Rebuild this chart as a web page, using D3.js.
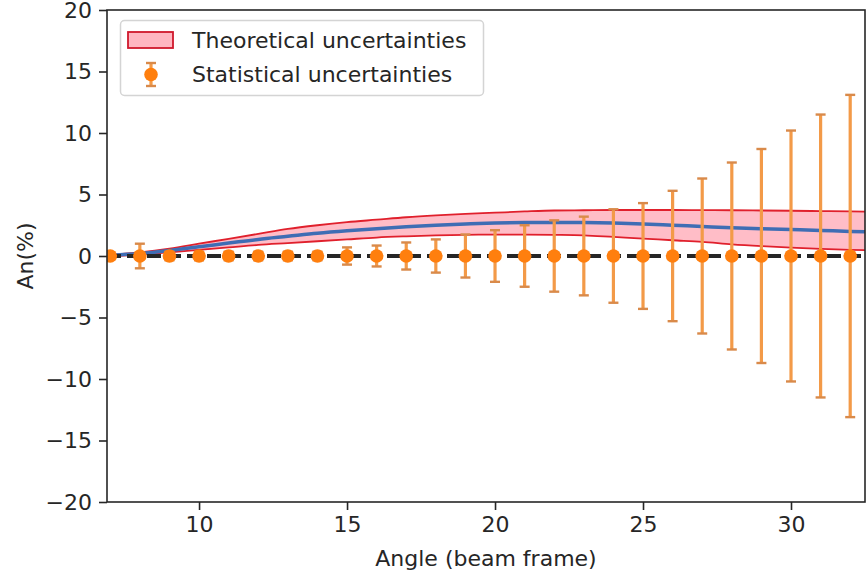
<!DOCTYPE html>
<html>
<head>
<meta charset="utf-8">
<script src="https://cdn.jsdelivr.net/npm/d3@7"></script>
<style>
  body { margin: 0; background: #fff; }
  svg { display: block; }
  text { font-family: "DejaVu Sans", sans-serif; fill: #262626; }
</style>
</head>
<body>
<svg id="chart" width="866" height="573"></svg>
<script>
// Theoretical prediction: central value and uncertainty band, An (%) vs angle
const bandAngles  = [7, 8, 9, 10, 11, 12, 13, 14, 15, 16, 17, 18, 19, 20, 21, 22, 23, 24, 25, 26, 27, 28, 29, 30, 31, 32, 33];
const bandUpper   = [0.1, 0.3, 0.6, 1.0, 1.4, 1.8, 2.2, 2.5, 2.75, 2.95, 3.15, 3.3, 3.42, 3.52, 3.62, 3.7, 3.72, 3.74, 3.74, 3.74, 3.73, 3.72, 3.7, 3.68, 3.65, 3.62, 3.58];
const bandCentral = [0.05, 0.2, 0.45, 0.75, 1.05, 1.35, 1.6, 1.85, 2.05, 2.22, 2.37, 2.5, 2.6, 2.68, 2.72, 2.73, 2.72, 2.68, 2.6, 2.5, 2.4, 2.3, 2.22, 2.15, 2.08, 2.0, 1.95];
const bandLower   = [0.0, 0.1, 0.3, 0.5, 0.7, 0.9, 1.05, 1.2, 1.35, 1.5, 1.6, 1.68, 1.72, 1.74, 1.74, 1.72, 1.68, 1.55, 1.42, 1.28, 1.15, 0.95, 0.8, 0.68, 0.58, 0.5, 0.46];

// Projected measurement: points at zero with statistical error bars
const pointAngles = [7, 8, 9, 10, 11, 12, 13, 14, 15, 16, 17, 18, 19, 20, 21, 22, 23, 24, 25, 26, 27, 28, 29, 30, 31, 32];
const pointValues = [0, 0, 0, 0, 0, 0, 0, 0, 0, 0, 0, 0, 0, 0, 0, 0, 0, 0, 0, 0, 0, 0, 0, 0, 0, 0];
const pointErrors = [0.3, 1.0, 0.35, 0.35, 0.35, 0.35, 0.35, 0.35, 0.7, 0.85, 1.1, 1.35, 1.75, 2.1, 2.5, 2.9, 3.2, 3.8, 4.3, 5.3, 6.3, 7.6, 8.7, 10.2, 11.5, 13.1];

const xTicks = [10, 15, 20, 25, 30];
const yTicks = [-20, -15, -10, -5, 0, 5, 10, 15, 20];
const xDomain = [6.89, 32.5];
const yDomain = [-20, 20];

const legendLabels = ["Theoretical uncertainties", "Statistical uncertainties"];
const xLabel = "Angle (beam frame)";
const yLabel = "An(%)";

const svg = d3.select("#chart");
const plot = { left: 107, right: 865, top: 10, bottom: 502 };
const fontSize = 22;

const x = d3.scaleLinear().domain(xDomain).range([plot.left, plot.right]);
const y = d3.scaleLinear().domain(yDomain).range([plot.bottom, plot.top]);

svg.append("defs").append("clipPath").attr("id", "plot-clip")
  .append("rect")
  .attr("x", plot.left).attr("y", plot.top)
  .attr("width", plot.right - plot.left).attr("height", plot.bottom - plot.top);

const g = svg.append("g").attr("clip-path", "url(#plot-clip)");

const band = bandAngles.map((a, i) => ({ a, lo: bandLower[i], c: bandCentral[i], hi: bandUpper[i] }));
const curve = d3.curveMonotoneX;

// uncertainty band
g.append("path")
  .datum(band)
  .attr("d", d3.area().x(d => x(d.a)).y0(d => y(d.lo)).y1(d => y(d.hi)).curve(curve))
  .attr("fill", "#ffb6c1")
  .attr("fill-opacity", 0.9);

// band edges
[d => d.hi, d => d.lo].forEach(acc => {
  g.append("path")
    .datum(band)
    .attr("d", d3.line().x(d => x(d.a)).y(d => y(acc(d))).curve(curve))
    .attr("fill", "none")
    .attr("stroke", "#e0202c")
    .attr("stroke-width", 1.8);
});

// central prediction
g.append("path")
  .datum(band)
  .attr("d", d3.line().x(d => x(d.a)).y(d => y(d.c)).curve(curve))
  .attr("fill", "none")
  .attr("stroke", "#3f6db4")
  .attr("stroke-width", 3.5);

// zero reference line
g.append("line")
  .attr("x1", plot.left).attr("x2", plot.right)
  .attr("y1", y(0)).attr("y2", y(0))
  .attr("stroke", "#262626")
  .attr("stroke-width", 4)
  .attr("stroke-dasharray", "14,6");

// error bars
const pts = pointAngles.map((a, i) => ({ a, v: pointValues[i], e: pointErrors[i] }));
const barColor = "#f39a48";
const capHalf = 5;
const eb = g.append("g");
eb.selectAll("line.bar").data(pts).join("line")
  .attr("class", "bar")
  .attr("x1", d => x(d.a)).attr("x2", d => x(d.a))
  .attr("y1", d => y(d.v - d.e)).attr("y2", d => y(d.v + d.e))
  .attr("stroke", barColor).attr("stroke-width", 3.2);
["top", "bot"].forEach(side => {
  eb.selectAll("line.cap-" + side).data(pts).join("line")
    .attr("class", "cap-" + side)
    .attr("x1", d => x(d.a) - capHalf).attr("x2", d => x(d.a) + capHalf)
    .attr("y1", d => y(side === "top" ? d.v + d.e : d.v - d.e))
    .attr("y2", d => y(side === "top" ? d.v + d.e : d.v - d.e))
    .attr("stroke", "#d98a4a").attr("stroke-width", 2.4);
});
eb.selectAll("circle").data(pts).join("circle")
  .attr("cx", d => x(d.a)).attr("cy", d => y(d.v))
  .attr("r", 6.8)
  .attr("fill", "#ff7f0e");

// axes
const xAxis = d3.axisBottom(x).tickValues(xTicks).tickSize(8).tickPadding(6).tickFormat(d3.format("d"));
const yAxis = d3.axisLeft(y).tickValues(yTicks).tickSize(8).tickPadding(7)
  .tickFormat(d => (d < 0 ? "\u2212" + Math.abs(d) : String(d)));

const gx = svg.append("g").attr("transform", `translate(0,${plot.bottom})`).call(xAxis);
const gy = svg.append("g").attr("transform", `translate(${plot.left},0)`).call(yAxis);
[gx, gy].forEach(ax => {
  ax.select(".domain").remove();
  ax.selectAll(".tick line").attr("stroke", "#262626").attr("stroke-width", 1.6);
  ax.selectAll(".tick text").attr("font-size", fontSize).attr("fill", "#262626")
    .style("font-family", "'DejaVu Sans', sans-serif");
});

// frame
svg.append("rect")
  .attr("x", plot.left).attr("y", plot.top)
  .attr("width", plot.right - plot.left).attr("height", plot.bottom - plot.top)
  .attr("fill", "none").attr("stroke", "#262626").attr("stroke-width", 1.6);

// axis labels
svg.append("text")
  .attr("x", (plot.left + plot.right) / 2).attr("y", 566)
  .attr("text-anchor", "middle").attr("font-size", fontSize)
  .text(xLabel);
svg.append("text")
  .attr("transform", `translate(33,${(plot.top + plot.bottom) / 2}) rotate(-90)`)
  .attr("text-anchor", "middle").attr("font-size", fontSize)
  .text(yLabel);

// legend
const lg = svg.append("g");
lg.append("rect")
  .attr("x", 120.5).attr("y", 20.5).attr("width", 363).attr("height", 75)
  .attr("rx", 4).attr("fill", "#fff").attr("fill-opacity", 0.85)
  .attr("stroke", "#d4d4d4").attr("stroke-width", 1.5);
lg.append("rect")
  .attr("x", 128).attr("y", 32).attr("width", 45).attr("height", 16)
  .attr("fill", "#ffb6c1").attr("stroke", "#d0182c").attr("stroke-width", 1.8);
lg.append("line")
  .attr("x1", 151).attr("x2", 151).attr("y1", 63).attr("y2", 86)
  .attr("stroke", barColor).attr("stroke-width", 3.2);
[63, 86].forEach(yy => lg.append("line")
  .attr("x1", 151 - capHalf).attr("x2", 151 + capHalf).attr("y1", yy).attr("y2", yy)
  .attr("stroke", "#d98a4a").attr("stroke-width", 2.4));
lg.append("circle").attr("cx", 151).attr("cy", 74.5).attr("r", 6.8).attr("fill", "#ff7f0e");
legendLabels.forEach((t, i) => lg.append("text")
  .attr("x", 192).attr("y", 48 + i * 33.5)
  .attr("font-size", fontSize)
  .text(t));
</script>
</body>
</html>
